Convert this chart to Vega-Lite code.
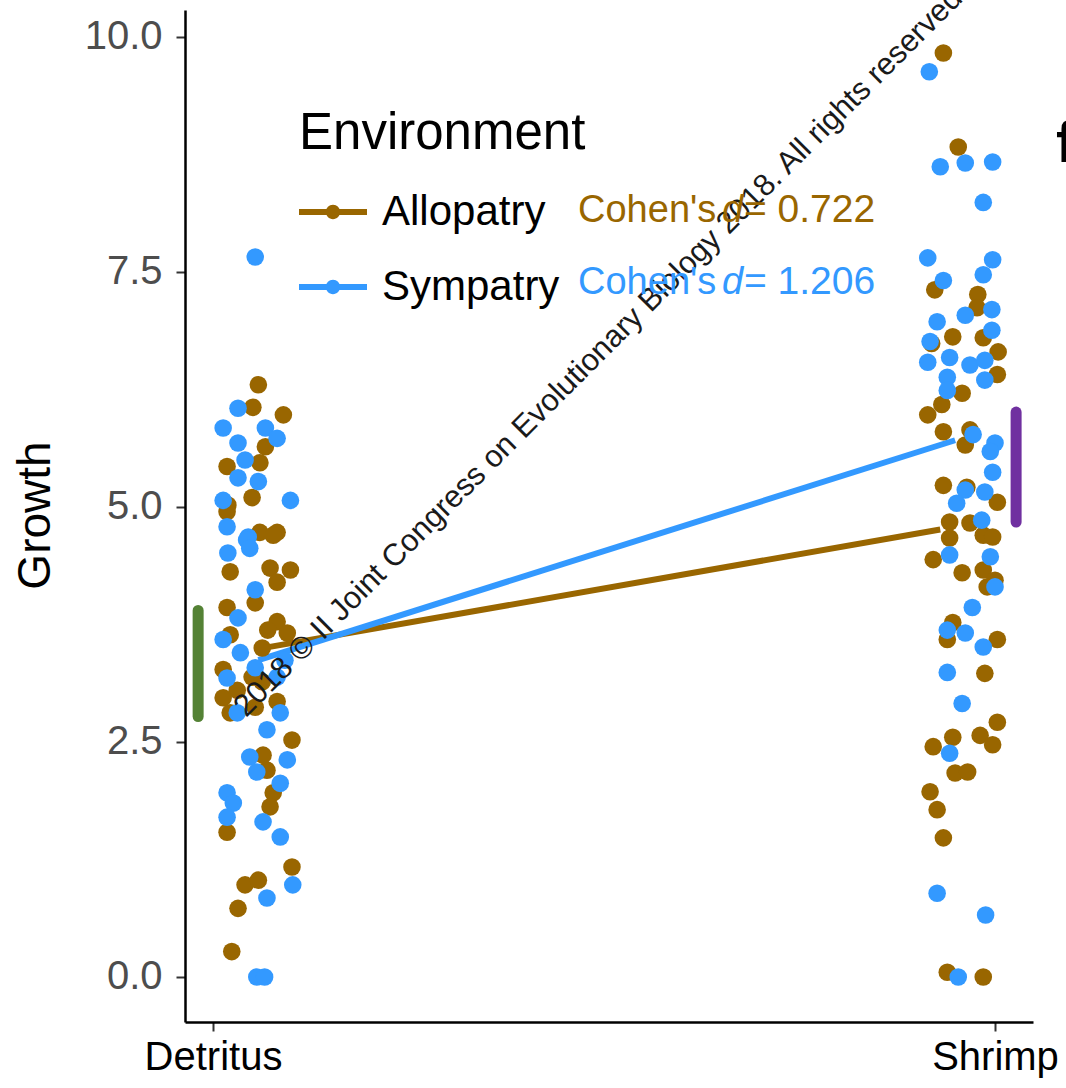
{
  "$schema": "https://vega.github.io/schema/vega-lite/v6.json",
  "width": 848,
  "height": 1012,
  "autosize": "none",
  "padding": {"left": 185, "top": 10, "right": 33, "bottom": 66},
  "background": "white",
  "config": {"view": {"stroke": null}, "font": "Liberation Sans"},
  "datasets": {
    "pts": [
      {"env":"Allopatry","x":1.058,"y":6.30},{"env":"Allopatry","x":1.051,"y":6.06},{"env":"Allopatry","x":1.090,"y":5.98},
      {"env":"Allopatry","x":1.067,"y":5.64},{"env":"Allopatry","x":1.018,"y":5.43},{"env":"Allopatry","x":1.060,"y":5.47},
      {"env":"Allopatry","x":1.050,"y":5.10},{"env":"Allopatry","x":1.019,"y":5.02},{"env":"Allopatry","x":1.018,"y":4.95},
      {"env":"Allopatry","x":1.060,"y":4.73},{"env":"Allopatry","x":1.082,"y":4.73},{"env":"Allopatry","x":1.077,"y":4.70},
      {"env":"Allopatry","x":1.022,"y":4.31},{"env":"Allopatry","x":1.073,"y":4.35},{"env":"Allopatry","x":1.099,"y":4.33},
      {"env":"Allopatry","x":1.082,"y":4.20},{"env":"Allopatry","x":1.054,"y":3.98},{"env":"Allopatry","x":1.018,"y":3.93},
      {"env":"Allopatry","x":1.082,"y":3.78},{"env":"Allopatry","x":1.070,"y":3.69},{"env":"Allopatry","x":1.095,"y":3.66},
      {"env":"Allopatry","x":1.022,"y":3.64},{"env":"Allopatry","x":1.063,"y":3.50},{"env":"Allopatry","x":1.013,"y":3.27},
      {"env":"Allopatry","x":1.050,"y":3.19},{"env":"Allopatry","x":1.063,"y":3.14},{"env":"Allopatry","x":1.031,"y":3.05},
      {"env":"Allopatry","x":1.013,"y":2.97},{"env":"Allopatry","x":1.022,"y":2.81},{"env":"Allopatry","x":1.054,"y":2.87},
      {"env":"Allopatry","x":1.082,"y":2.93},{"env":"Allopatry","x":1.101,"y":2.52},{"env":"Allopatry","x":1.064,"y":2.36},
      {"env":"Allopatry","x":1.069,"y":2.20},{"env":"Allopatry","x":1.077,"y":1.96},{"env":"Allopatry","x":1.073,"y":1.81},
      {"env":"Allopatry","x":1.018,"y":1.54},{"env":"Allopatry","x":1.101,"y":1.17},{"env":"Allopatry","x":1.041,"y":0.98},
      {"env":"Allopatry","x":1.058,"y":1.03},{"env":"Allopatry","x":1.032,"y":0.73},{"env":"Allopatry","x":1.024,"y":0.27},
      {"env":"Allopatry","x":1.934,"y":9.83},{"env":"Allopatry","x":1.953,"y":8.83},{"env":"Allopatry","x":1.923,"y":7.31},
      {"env":"Allopatry","x":1.978,"y":7.26},{"env":"Allopatry","x":1.977,"y":7.12},{"env":"Allopatry","x":1.946,"y":6.81},
      {"env":"Allopatry","x":1.919,"y":6.74},{"env":"Allopatry","x":1.985,"y":6.80},{"env":"Allopatry","x":2.004,"y":6.65},
      {"env":"Allopatry","x":2.003,"y":6.41},{"env":"Allopatry","x":1.958,"y":6.21},{"env":"Allopatry","x":1.932,"y":6.09},
      {"env":"Allopatry","x":1.914,"y":5.98},{"env":"Allopatry","x":1.934,"y":5.80},{"env":"Allopatry","x":1.968,"y":5.82},
      {"env":"Allopatry","x":1.962,"y":5.66},{"env":"Allopatry","x":1.934,"y":5.23},{"env":"Allopatry","x":1.964,"y":5.21},
      {"env":"Allopatry","x":2.003,"y":5.05},{"env":"Allopatry","x":1.942,"y":4.84},{"env":"Allopatry","x":1.942,"y":4.67},
      {"env":"Allopatry","x":1.968,"y":4.83},{"env":"Allopatry","x":1.985,"y":4.70},{"env":"Allopatry","x":1.997,"y":4.68},
      {"env":"Allopatry","x":1.921,"y":4.44},{"env":"Allopatry","x":1.958,"y":4.30},{"env":"Allopatry","x":1.985,"y":4.33},
      {"env":"Allopatry","x":2.000,"y":4.22},{"env":"Allopatry","x":1.990,"y":4.15},{"env":"Allopatry","x":1.946,"y":3.77},
      {"env":"Allopatry","x":1.939,"y":3.59},{"env":"Allopatry","x":2.003,"y":3.59},{"env":"Allopatry","x":1.987,"y":3.23},
      {"env":"Allopatry","x":2.003,"y":2.71},{"env":"Allopatry","x":1.946,"y":2.55},{"env":"Allopatry","x":1.981,"y":2.57},
      {"env":"Allopatry","x":1.921,"y":2.45},{"env":"Allopatry","x":1.997,"y":2.47},{"env":"Allopatry","x":1.949,"y":2.17},
      {"env":"Allopatry","x":1.965,"y":2.18},{"env":"Allopatry","x":1.917,"y":1.97},{"env":"Allopatry","x":1.926,"y":1.78},
      {"env":"Allopatry","x":1.934,"y":1.48},{"env":"Allopatry","x":1.939,"y":0.05},{"env":"Allopatry","x":1.985,"y":0.00},
      {"env":"Sympatry","x":1.054,"y":7.66},{"env":"Sympatry","x":1.032,"y":6.05},{"env":"Sympatry","x":1.013,"y":5.84},
      {"env":"Sympatry","x":1.067,"y":5.84},{"env":"Sympatry","x":1.082,"y":5.73},{"env":"Sympatry","x":1.032,"y":5.68},
      {"env":"Sympatry","x":1.041,"y":5.50},{"env":"Sympatry","x":1.032,"y":5.31},{"env":"Sympatry","x":1.058,"y":5.27},
      {"env":"Sympatry","x":1.013,"y":5.07},{"env":"Sympatry","x":1.099,"y":5.07},{"env":"Sympatry","x":1.018,"y":4.79},
      {"env":"Sympatry","x":1.045,"y":4.68},{"env":"Sympatry","x":1.043,"y":4.65},{"env":"Sympatry","x":1.019,"y":4.51},
      {"env":"Sympatry","x":1.047,"y":4.56},{"env":"Sympatry","x":1.054,"y":4.12},{"env":"Sympatry","x":1.032,"y":3.82},
      {"env":"Sympatry","x":1.013,"y":3.59},{"env":"Sympatry","x":1.035,"y":3.45},{"env":"Sympatry","x":1.054,"y":3.29},
      {"env":"Sympatry","x":1.092,"y":3.37},{"env":"Sympatry","x":1.018,"y":3.18},{"env":"Sympatry","x":1.082,"y":3.19},
      {"env":"Sympatry","x":1.031,"y":2.81},{"env":"Sympatry","x":1.086,"y":2.81},{"env":"Sympatry","x":1.069,"y":2.63},
      {"env":"Sympatry","x":1.047,"y":2.34},{"env":"Sympatry","x":1.095,"y":2.31},{"env":"Sympatry","x":1.056,"y":2.18},
      {"env":"Sympatry","x":1.086,"y":2.06},{"env":"Sympatry","x":1.018,"y":1.96},{"env":"Sympatry","x":1.026,"y":1.85},
      {"env":"Sympatry","x":1.018,"y":1.70},{"env":"Sympatry","x":1.064,"y":1.65},{"env":"Sympatry","x":1.086,"y":1.49},
      {"env":"Sympatry","x":1.102,"y":0.98},{"env":"Sympatry","x":1.069,"y":0.84},{"env":"Sympatry","x":1.056,"y":0.00},
      {"env":"Sympatry","x":1.066,"y":0.00},
      {"env":"Sympatry","x":1.916,"y":9.63},{"env":"Sympatry","x":1.930,"y":8.62},{"env":"Sympatry","x":1.962,"y":8.66},
      {"env":"Sympatry","x":1.997,"y":8.67},{"env":"Sympatry","x":1.985,"y":8.24},{"env":"Sympatry","x":1.914,"y":7.65},
      {"env":"Sympatry","x":1.997,"y":7.63},{"env":"Sympatry","x":1.985,"y":7.47},{"env":"Sympatry","x":1.934,"y":7.41},
      {"env":"Sympatry","x":1.926,"y":6.97},{"env":"Sympatry","x":1.962,"y":7.04},{"env":"Sympatry","x":1.996,"y":7.10},
      {"env":"Sympatry","x":1.996,"y":6.88},{"env":"Sympatry","x":1.917,"y":6.76},{"env":"Sympatry","x":1.914,"y":6.54},
      {"env":"Sympatry","x":1.942,"y":6.59},{"env":"Sympatry","x":1.968,"y":6.51},{"env":"Sympatry","x":1.987,"y":6.56},
      {"env":"Sympatry","x":1.939,"y":6.38},{"env":"Sympatry","x":1.939,"y":6.24},{"env":"Sympatry","x":1.987,"y":6.35},
      {"env":"Sympatry","x":1.972,"y":5.77},{"env":"Sympatry","x":2.000,"y":5.68},{"env":"Sympatry","x":1.994,"y":5.59},
      {"env":"Sympatry","x":1.997,"y":5.37},{"env":"Sympatry","x":1.962,"y":5.18},{"env":"Sympatry","x":1.987,"y":5.16},
      {"env":"Sympatry","x":1.951,"y":5.04},{"env":"Sympatry","x":1.983,"y":4.86},{"env":"Sympatry","x":1.942,"y":4.49},
      {"env":"Sympatry","x":1.994,"y":4.47},{"env":"Sympatry","x":2.000,"y":4.15},{"env":"Sympatry","x":1.971,"y":3.93},
      {"env":"Sympatry","x":1.939,"y":3.69},{"env":"Sympatry","x":1.962,"y":3.66},{"env":"Sympatry","x":1.985,"y":3.51},
      {"env":"Sympatry","x":1.939,"y":3.24},{"env":"Sympatry","x":1.958,"y":2.91},{"env":"Sympatry","x":1.942,"y":2.38},
      {"env":"Sympatry","x":1.926,"y":0.89},{"env":"Sympatry","x":1.988,"y":0.66},{"env":"Sympatry","x":1.953,"y":0.00}
    ],
    "means": [
      {"env":"Allopatry","x":1.058,"y":3.49},{"env":"Allopatry","x":1.930,"y":4.76},
      {"env":"Sympatry","x":1.058,"y":3.37},{"env":"Sympatry","x":1.949,"y":5.71}
    ],
    "bars": [
      {"diet":"Detritus","x":0.981,"lo":2.77,"hi":3.90},
      {"diet":"Shrimp","x":2.027,"lo":4.84,"hi":6.01}
    ],
    "one": [{"k": 1}]
  },
  "resolve": {"scale": {"stroke": "independent"}, "legend": {"stroke": "independent"}},
  "layer": [
    {
      "data": {"name": "bars"},
      "mark": {"type": "rule", "strokeWidth": 11, "strokeCap": "round"},
      "encoding": {
        "x": {"field": "x", "type": "quantitative", "scale": {"domain": [0.9642, 2.0486], "nice": false, "zero": false},
          "axis": {"values": [1, 2], "labelExpr": "datum.value == 1 ? 'Detritus' : 'Shrimp'", "title": null, "grid": false,
            "ticks": true, "tickSize": 9, "tickWidth": 2, "tickColor": "#333333", "labelFontSize": 40, "labelColor": "black", "labelPadding": 6,
            "domainColor": "black", "domainWidth": 2.5, "labelOverlap": false, "labelBound": false, "labelFlush": false}},
        "y": {"field": "lo", "type": "quantitative", "scale": {"domain": [-0.479, 10.287], "nice": false, "zero": false},
          "axis": {"values": [0, 2.5, 5, 7.5, 10], "format": ".1f", "grid": false, "title": "Growth",
            "titleFontSize": 46, "titleFontWeight": "normal", "titleColor": "black", "titleX": -150, "titleY": 505,
            "titleAngle": 270, "titleBaseline": "middle", "titleAlign": "center",
            "labelFontSize": 40, "labelColor": "#4D4D4D", "labelPadding": 14, "tickSize": 9, "tickWidth": 2, "tickColor": "#333333",
            "domainColor": "black", "domainWidth": 2.5}},
        "y2": {"field": "hi"},
        "stroke": {"field": "diet", "type": "nominal", "scale": {"domain": ["Detritus", "Shrimp"], "range": ["#548235", "#7030A0"]}, "legend": null}
      }
    },
    {
      "data": {"name": "means"},
      "mark": {"type": "line", "strokeWidth": 6},
      "encoding": {
        "x": {"field": "x", "type": "quantitative"},
        "y": {"field": "y", "type": "quantitative"},
        "stroke": {"field": "env", "type": "nominal", "scale": {"domain": ["Allopatry", "Sympatry"], "range": ["#996600", "#3399FF"]}, "legend": null}
      }
    },
    {
      "data": {"name": "pts"},
      "mark": {"type": "point", "filled": true, "size": 310, "opacity": 1},
      "encoding": {
        "x": {"field": "x", "type": "quantitative"},
        "y": {"field": "y", "type": "quantitative"},
        "color": {"field": "env", "type": "nominal", "scale": {"domain": ["Allopatry", "Sympatry"], "range": ["#996600", "#3399FF"]},
          "legend": {"orient": "none", "legendX": 114, "legendY": 99, "title": "Environment", "titleFontSize": 51,
            "titleFontWeight": "normal", "titleColor": "black", "titleFont": "Liberation Sans", "labelFontSize": 42, "labelColor": "black",
            "labelFont": "Liberation Sans", "labelLimit": 0, "titleLimit": 0, "symbolType": "M-1,-0.09H1V0.09H-1Z M-0.21,0A0.21,0.21,0,1,1,0.21,0A0.21,0.21,0,1,1,-0.21,0Z",
            "symbolSize": 4624, "symbolStrokeWidth": 0, "symbolOpacity": 1, "rowPadding": 20, "titlePadding": 18, "labelOffset": 15, "padding": 0}}
      }
    },
    {
      "data": {"name": "one"},
      "mark": {"type": "text", "text": "2018 © II Joint Congress on Evolutionary Biology 2018. All rights reserved", "angle": -45, "align": "left", "baseline": "alphabetic", "fontSize": 31, "color": "#1a1a1a"},
      "encoding": {"x": {"datum": 1.0422}, "y": {"datum": 2.755}}
    },
    {
      "data": {"name": "one"},
      "mark": {"type": "text", "text": "Cohen's", "align": "left", "baseline": "alphabetic", "fontSize": 38, "color": "#996600"},
      "encoding": {"x": {"datum": 1.4668}, "y": {"datum": 8.032}}
    },
    {
      "data": {"name": "one"},
      "mark": {"type": "text", "text": "d", "align": "left", "baseline": "alphabetic", "fontSize": 38, "fontStyle": "italic", "color": "#996600"},
      "encoding": {"x": {"datum": 1.6509}, "y": {"datum": 8.032}}
    },
    {
      "data": {"name": "one"},
      "mark": {"type": "text", "text": "= 0.722", "align": "left", "baseline": "alphabetic", "fontSize": 39, "color": "#996600"},
      "encoding": {"x": {"datum": 1.6790}, "y": {"datum": 8.032}}
    },
    {
      "data": {"name": "one"},
      "mark": {"type": "text", "text": "Cohen's", "align": "left", "baseline": "alphabetic", "fontSize": 38, "color": "#3399FF"},
      "encoding": {"x": {"datum": 1.4668}, "y": {"datum": 7.266}}
    },
    {
      "data": {"name": "one"},
      "mark": {"type": "text", "text": "d", "align": "left", "baseline": "alphabetic", "fontSize": 38, "fontStyle": "italic", "color": "#3399FF"},
      "encoding": {"x": {"datum": 1.6509}, "y": {"datum": 7.266}}
    },
    {
      "data": {"name": "one"},
      "mark": {"type": "text", "text": "= 1.206", "align": "left", "baseline": "alphabetic", "fontSize": 39, "color": "#3399FF"},
      "encoding": {"x": {"datum": 1.6790}, "y": {"datum": 7.266}}
    },
    {
      "data": {"name": "one"},
      "mark": {"type": "text", "text": "f", "align": "left", "baseline": "alphabetic", "fontSize": 58, "fontWeight": "bold", "color": "black"},
      "encoding": {"x": {"datum": 2.078}, "y": {"datum": 8.67}}
    }
  ]
}
